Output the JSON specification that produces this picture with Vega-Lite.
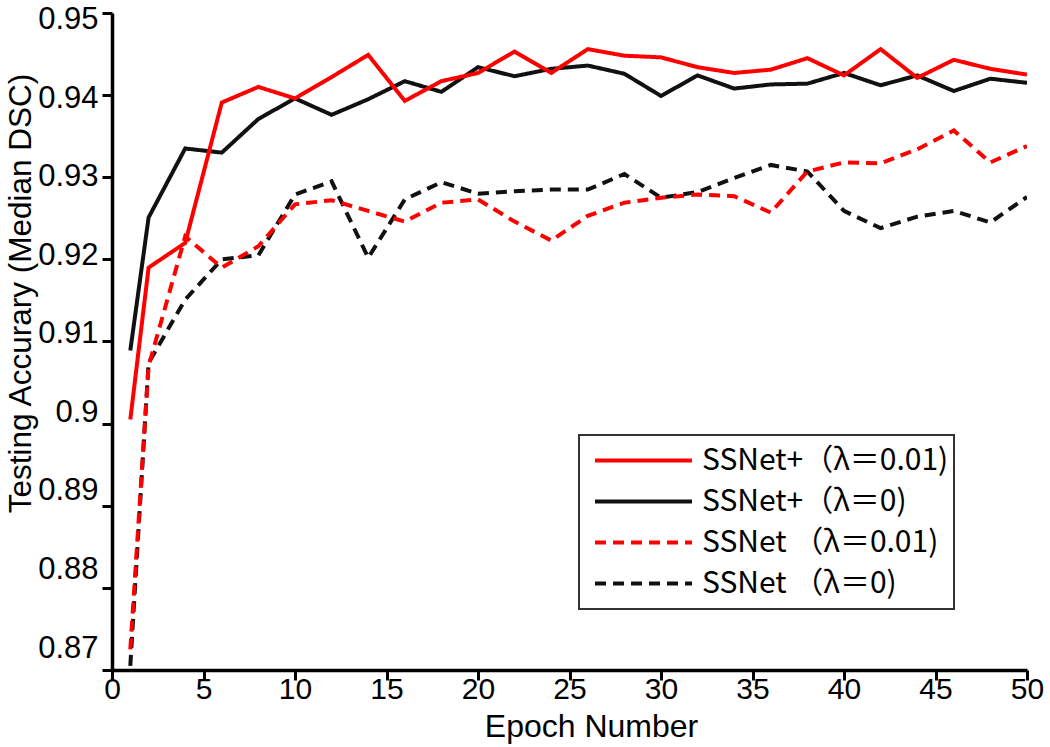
{
  "$schema": "https://vega.github.io/schema/vega-lite/v6.json",
  "autosize": {"type": "none"},
  "width": 915,
  "height": 657,
  "padding": {"left": 112, "top": 13, "right": 23, "bottom": 77},
  "background": "white",
  "config": {
    "view": {"stroke": null},
    "axis": {
      "domainColor": "black",
      "domainWidth": 3.5,
      "tickColor": "black",
      "tickWidth": 3,
      "tickSize": 10,
      "grid": false,
      "labelFont": "Liberation Sans",
      "labelFontSize": 30,
      "labelColor": "black",
      "titleFont": "Liberation Sans",
      "titleFontSize": 31,
      "titleFontWeight": "normal",
      "titleColor": "black"
    }
  },
  "data": {
    "values": [
      {"epoch": 1, "value": 0.8705, "series": "SSNet （λ＝0)"},
      {"epoch": 2, "value": 0.9074, "series": "SSNet （λ＝0)"},
      {"epoch": 4, "value": 0.9151, "series": "SSNet （λ＝0)"},
      {"epoch": 6, "value": 0.9200, "series": "SSNet （λ＝0)"},
      {"epoch": 8, "value": 0.9205, "series": "SSNet （λ＝0)"},
      {"epoch": 10, "value": 0.9279, "series": "SSNet （λ＝0)"},
      {"epoch": 12, "value": 0.9295, "series": "SSNet （λ＝0)"},
      {"epoch": 14, "value": 0.9202, "series": "SSNet （λ＝0)"},
      {"epoch": 16, "value": 0.9273, "series": "SSNet （λ＝0)"},
      {"epoch": 18, "value": 0.9294, "series": "SSNet （λ＝0)"},
      {"epoch": 20, "value": 0.9280, "series": "SSNet （λ＝0)"},
      {"epoch": 22, "value": 0.9283, "series": "SSNet （λ＝0)"},
      {"epoch": 24, "value": 0.9285, "series": "SSNet （λ＝0)"},
      {"epoch": 26, "value": 0.9285, "series": "SSNet （λ＝0)"},
      {"epoch": 28, "value": 0.9304, "series": "SSNet （λ＝0)"},
      {"epoch": 30, "value": 0.9275, "series": "SSNet （λ＝0)"},
      {"epoch": 32, "value": 0.9282, "series": "SSNet （λ＝0)"},
      {"epoch": 34, "value": 0.9299, "series": "SSNet （λ＝0)"},
      {"epoch": 36, "value": 0.9315, "series": "SSNet （λ＝0)"},
      {"epoch": 38, "value": 0.9307, "series": "SSNet （λ＝0)"},
      {"epoch": 40, "value": 0.9259, "series": "SSNet （λ＝0)"},
      {"epoch": 42, "value": 0.9238, "series": "SSNet （λ＝0)"},
      {"epoch": 44, "value": 0.9252, "series": "SSNet （λ＝0)"},
      {"epoch": 46, "value": 0.9259, "series": "SSNet （λ＝0)"},
      {"epoch": 48, "value": 0.9245, "series": "SSNet （λ＝0)"},
      {"epoch": 50, "value": 0.9276, "series": "SSNet （λ＝0)"},

      {"epoch": 1, "value": 0.8725, "series": "SSNet （λ＝0.01)"},
      {"epoch": 2, "value": 0.9070, "series": "SSNet （λ＝0.01)"},
      {"epoch": 4, "value": 0.9228, "series": "SSNet （λ＝0.01)"},
      {"epoch": 6, "value": 0.9190, "series": "SSNet （λ＝0.01)"},
      {"epoch": 8, "value": 0.9216, "series": "SSNet （λ＝0.01)"},
      {"epoch": 10, "value": 0.9267, "series": "SSNet （λ＝0.01)"},
      {"epoch": 12, "value": 0.9272, "series": "SSNet （λ＝0.01)"},
      {"epoch": 14, "value": 0.9259, "series": "SSNet （λ＝0.01)"},
      {"epoch": 16, "value": 0.9246, "series": "SSNet （λ＝0.01)"},
      {"epoch": 18, "value": 0.9269, "series": "SSNet （λ＝0.01)"},
      {"epoch": 20, "value": 0.9273, "series": "SSNet （λ＝0.01)"},
      {"epoch": 22, "value": 0.9246, "series": "SSNet （λ＝0.01)"},
      {"epoch": 24, "value": 0.9223, "series": "SSNet （λ＝0.01)"},
      {"epoch": 26, "value": 0.9253, "series": "SSNet （λ＝0.01)"},
      {"epoch": 28, "value": 0.9269, "series": "SSNet （λ＝0.01)"},
      {"epoch": 30, "value": 0.9275, "series": "SSNet （λ＝0.01)"},
      {"epoch": 32, "value": 0.9279, "series": "SSNet （λ＝0.01)"},
      {"epoch": 34, "value": 0.9277, "series": "SSNet （λ＝0.01)"},
      {"epoch": 36, "value": 0.9257, "series": "SSNet （λ＝0.01)"},
      {"epoch": 38, "value": 0.9307, "series": "SSNet （λ＝0.01)"},
      {"epoch": 40, "value": 0.9318, "series": "SSNet （λ＝0.01)"},
      {"epoch": 42, "value": 0.9317, "series": "SSNet （λ＝0.01)"},
      {"epoch": 44, "value": 0.9334, "series": "SSNet （λ＝0.01)"},
      {"epoch": 46, "value": 0.9357, "series": "SSNet （λ＝0.01)"},
      {"epoch": 48, "value": 0.9318, "series": "SSNet （λ＝0.01)"},
      {"epoch": 50, "value": 0.9338, "series": "SSNet （λ＝0.01)"},

      {"epoch": 1, "value": 0.9089, "series": "SSNet+（λ＝0)"},
      {"epoch": 2, "value": 0.9251, "series": "SSNet+（λ＝0)"},
      {"epoch": 4, "value": 0.9335, "series": "SSNet+（λ＝0)"},
      {"epoch": 6, "value": 0.9330, "series": "SSNet+（λ＝0)"},
      {"epoch": 8, "value": 0.9371, "series": "SSNet+（λ＝0)"},
      {"epoch": 10, "value": 0.9396, "series": "SSNet+（λ＝0)"},
      {"epoch": 12, "value": 0.9376, "series": "SSNet+（λ＝0)"},
      {"epoch": 14, "value": 0.9395, "series": "SSNet+（λ＝0)"},
      {"epoch": 16, "value": 0.9417, "series": "SSNet+（λ＝0)"},
      {"epoch": 18, "value": 0.9404, "series": "SSNet+（λ＝0)"},
      {"epoch": 20, "value": 0.9434, "series": "SSNet+（λ＝0)"},
      {"epoch": 22, "value": 0.9423, "series": "SSNet+（λ＝0)"},
      {"epoch": 24, "value": 0.9432, "series": "SSNet+（λ＝0)"},
      {"epoch": 26, "value": 0.9436, "series": "SSNet+（λ＝0)"},
      {"epoch": 28, "value": 0.9426, "series": "SSNet+（λ＝0)"},
      {"epoch": 30, "value": 0.9399, "series": "SSNet+（λ＝0)"},
      {"epoch": 32, "value": 0.9424, "series": "SSNet+（λ＝0)"},
      {"epoch": 34, "value": 0.9408, "series": "SSNet+（λ＝0)"},
      {"epoch": 36, "value": 0.9413, "series": "SSNet+（λ＝0)"},
      {"epoch": 38, "value": 0.9414, "series": "SSNet+（λ＝0)"},
      {"epoch": 40, "value": 0.9427, "series": "SSNet+（λ＝0)"},
      {"epoch": 42, "value": 0.9412, "series": "SSNet+（λ＝0)"},
      {"epoch": 44, "value": 0.9424, "series": "SSNet+（λ＝0)"},
      {"epoch": 46, "value": 0.9405, "series": "SSNet+（λ＝0)"},
      {"epoch": 48, "value": 0.9420, "series": "SSNet+（λ＝0)"},
      {"epoch": 50, "value": 0.9415, "series": "SSNet+（λ＝0)"},

      {"epoch": 1, "value": 0.9005, "series": "SSNet+（λ＝0.01)"},
      {"epoch": 2, "value": 0.9190, "series": "SSNet+（λ＝0.01)"},
      {"epoch": 4, "value": 0.9220, "series": "SSNet+（λ＝0.01)"},
      {"epoch": 6, "value": 0.9391, "series": "SSNet+（λ＝0.01)"},
      {"epoch": 8, "value": 0.9410, "series": "SSNet+（λ＝0.01)"},
      {"epoch": 10, "value": 0.9396, "series": "SSNet+（λ＝0.01)"},
      {"epoch": 12, "value": 0.9422, "series": "SSNet+（λ＝0.01)"},
      {"epoch": 14, "value": 0.9449, "series": "SSNet+（λ＝0.01)"},
      {"epoch": 16, "value": 0.9393, "series": "SSNet+（λ＝0.01)"},
      {"epoch": 18, "value": 0.9417, "series": "SSNet+（λ＝0.01)"},
      {"epoch": 20, "value": 0.9427, "series": "SSNet+（λ＝0.01)"},
      {"epoch": 22, "value": 0.9453, "series": "SSNet+（λ＝0.01)"},
      {"epoch": 24, "value": 0.9427, "series": "SSNet+（λ＝0.01)"},
      {"epoch": 26, "value": 0.9456, "series": "SSNet+（λ＝0.01)"},
      {"epoch": 28, "value": 0.9448, "series": "SSNet+（λ＝0.01)"},
      {"epoch": 30, "value": 0.9446, "series": "SSNet+（λ＝0.01)"},
      {"epoch": 32, "value": 0.9434, "series": "SSNet+（λ＝0.01)"},
      {"epoch": 34, "value": 0.9427, "series": "SSNet+（λ＝0.01)"},
      {"epoch": 36, "value": 0.9431, "series": "SSNet+（λ＝0.01)"},
      {"epoch": 38, "value": 0.9445, "series": "SSNet+（λ＝0.01)"},
      {"epoch": 40, "value": 0.9424, "series": "SSNet+（λ＝0.01)"},
      {"epoch": 42, "value": 0.9456, "series": "SSNet+（λ＝0.01)"},
      {"epoch": 44, "value": 0.9421, "series": "SSNet+（λ＝0.01)"},
      {"epoch": 46, "value": 0.9443, "series": "SSNet+（λ＝0.01)"},
      {"epoch": 48, "value": 0.9432, "series": "SSNet+（λ＝0.01)"},
      {"epoch": 50, "value": 0.9425, "series": "SSNet+（λ＝0.01)"}
    ]
  },
  "mark": {"type": "line", "strokeWidth": 4, "clip": true},
  "encoding": {
    "x": {
      "field": "epoch",
      "type": "quantitative",
      "scale": {"domain": [0, 50], "nice": false, "zero": false},
      "axis": {
        "values": [0, 5, 10, 15, 20, 25, 30, 35, 40, 45, 50],
        "title": "Epoch Number",
        "titleFontSize": 32,
        "labelPadding": -6,
        "labelFlush": false,
        "titleX": 479,
        "titleY": 66,
        "titleBaseline": "alphabetic",
        "titleAnchor": "middle",
        "encode": {"ticks": {"update": {"y2": {"value": -10}}}}
      }
    },
    "y": {
      "field": "value",
      "type": "quantitative",
      "scale": {"domain": [0.87, 0.95], "nice": false, "zero": false},
      "axis": {
        "values": [0.87, 0.88, 0.89, 0.9, 0.91, 0.92, 0.93, 0.94, 0.95],
        "format": ".2~f",
        "title": "Testing Accurary (Median DSC)",
        "titleFontSize": 31.5,
        "labelPadding": 4,
        "labelFontSize": 31,
        "labelFlush": false,
        "labelOffset": {"expr": "-7.75 + (datum.value - 0.91) * 356"},
        "titleX": -75,
        "titleY": 280,
        "titleAngle": -90,
        "titleAlign": "center",
        "titleBaseline": "bottom",
        "encode": {"ticks": {"update": {"x2": {"value": 10}}}}
      }
    },
    "color": {
      "field": "series",
      "type": "nominal",
      "scale": {
        "domain": ["SSNet+（λ＝0.01)", "SSNet+（λ＝0)", "SSNet （λ＝0.01)", "SSNet （λ＝0)"],
        "range": ["#ff0000", "#111111", "#ff0000", "#111111"]
      },
      "legend": {
        "title": null,
        "orient": "none",
        "legendX": 467,
        "legendY": 422,
        "fillColor": "white",
        "strokeColor": "#333333",
        "padding": 5,
        "symbolType": "stroke",
        "symbolSize": 9400,
        "symbolStrokeWidth": 4,
        "clipHeight": 41,
        "rowPadding": 0,
        "symbolOffset": 9,
        "labelOffset": 8,
        "labelFont": "Noto Sans CJK SC",
        "labelFontSize": 30,
        "labelColor": "black",
        "labelLimit": 500,
        "encode": {"legend": {"update": {"strokeWidth": {"value": 2}}}}
      }
    },
    "strokeDash": {
      "field": "series",
      "type": "nominal",
      "scale": {
        "domain": ["SSNet+（λ＝0.01)", "SSNet+（λ＝0)", "SSNet （λ＝0.01)", "SSNet （λ＝0)"],
        "range": [[1, 0], [1, 0], [11, 7], [11, 7]]
      },
      "legend": {
        "title": null,
        "orient": "none",
        "legendX": 467,
        "legendY": 422,
        "fillColor": "white",
        "strokeColor": "#333333",
        "padding": 5,
        "symbolType": "stroke",
        "symbolSize": 9400,
        "symbolStrokeWidth": 4,
        "clipHeight": 41,
        "rowPadding": 0,
        "symbolOffset": 9,
        "labelOffset": 8,
        "labelFont": "Noto Sans CJK SC",
        "labelFontSize": 30,
        "labelColor": "black",
        "labelLimit": 500,
        "encode": {"legend": {"update": {"strokeWidth": {"value": 2}}}}
      }
    }
  }
}
